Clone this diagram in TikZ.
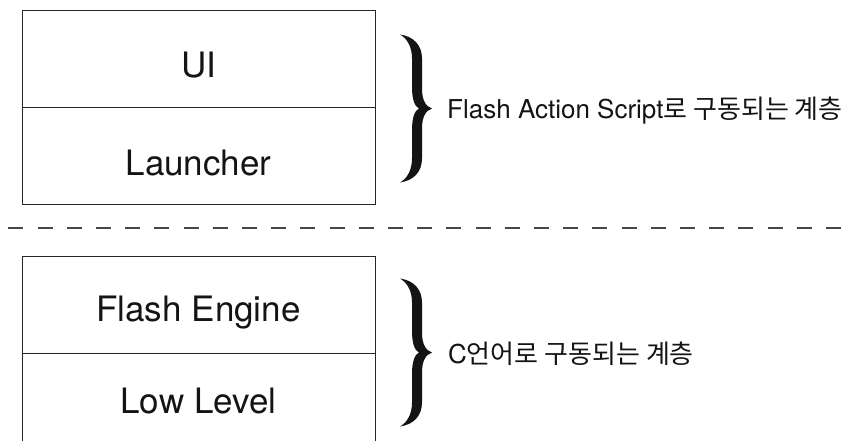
\documentclass[tikz,border=0pt]{standalone}
\usepackage{fontspec}
\setmainfont{TeX Gyre Heros}
\newfontfamily\kr{Noto Sans CJK KR}
\begin{document}
\begin{tikzpicture}[x=1pt,y=-1pt,
  layer/.style={draw=black!85, line width=1pt, minimum width=353pt, inner sep=0pt, outer sep=0pt},
  boxtext/.style={font=\fontsize{35}{40}\selectfont, anchor=base, text=black!92, inner sep=0pt},
  note/.style={font=\fontsize{26}{30}\selectfont, anchor=base west, text=black!92, inner sep=0pt},
  sepline/.style={draw=black!72, line width=2pt, dash pattern=on 15pt off 14.2pt},
  bracepic/.pic={
    \fill[black!92] (0,0) .. controls (-6,-2) and (-10,-8) .. (-10,-20) -- (-10,-50)
      .. controls (-10,-63) and (-18,-72) .. (-32,-74)
      .. controls (-25,-70) and (-20,-62) .. (-20,-50) -- (-20,-22)
      .. controls (-20,-8) and (-17,-2) .. (-13,0)
      .. controls (-17,2) and (-20,8) .. (-20,22) -- (-20,50)
      .. controls (-20,62) and (-25,70) .. (-32,74)
      .. controls (-18,72) and (-10,63) .. (-10,50) -- (-10,20)
      .. controls (-10,8) and (-6,2) .. (0,0) -- cycle;
  }]
\useasboundingbox (0,0) rectangle (841,441);
\clip (0,0) rectangle (841,441);
\fill[white] (0,0) rectangle (841,441);

% upper block
\node[layer, minimum height=97pt] (ui) at (198.5,59.5) {};
\node[layer, minimum height=96pt] (launcher) at (198.5,156) {};
\node[boxtext] (uit) at (198.5,78) {UI};
\node[boxtext] (launchert) at (198.5,175.7) {Launcher};

% separator
\coordinate (sepL) at (8.3,228.3);
\coordinate (sepR) at (841,228.3);
\draw[sepline] (sepL) -- (sepR);

% lower block
\node[layer, minimum height=97pt] (engine) at (198.5,304.5) {};
\node[layer, minimum height=97pt] (low) at (198.5,401.5) {};
\node[boxtext] (enginet) at (198.5,321.7) {Flash Engine};
\node[boxtext] (lowt) at (198.5,413) {Low Level};

% braces
\pic (bt) at (432,108.5) {bracepic};
\pic (bb) at (432,352.5) {bracepic};

% notes
\node[note] (asnote) at (447,118.5) {Flash Action Script{\kr 로 구동되는 계층}};
\node[note] (cnote) at (448,363.5) {C{\kr 언어로 구동되는 계층}};
\end{tikzpicture}
\end{document}
